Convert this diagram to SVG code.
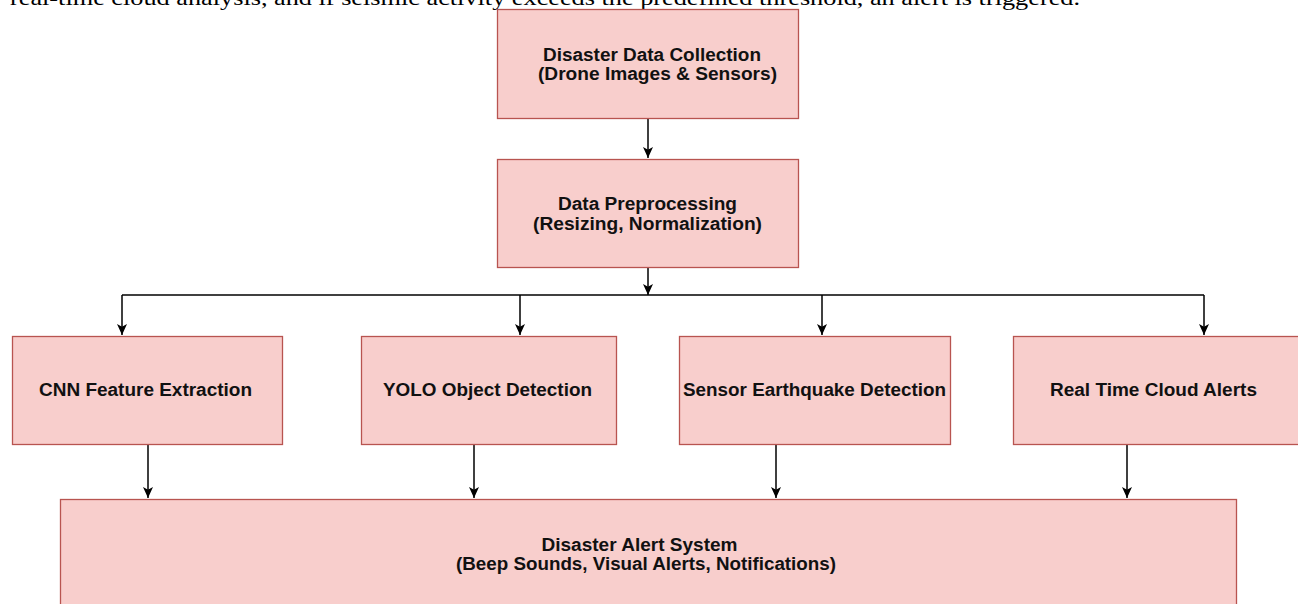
<svg xmlns="http://www.w3.org/2000/svg" width="1298" height="604" viewBox="0 0 1298 604">
<style>
.box{fill:#f8cecc;stroke:#b85450;stroke-width:1.3}
.lbl{font-family:"Liberation Sans",Arial,sans-serif;font-weight:bold;font-size:18px;fill:#111;text-anchor:middle}
.con{fill:none;stroke:#000;stroke-width:1.5}
.para{font-family:"Liberation Serif","Times New Roman",serif;font-size:22px;fill:#000}
</style>
<defs>
<marker id="ah" markerUnits="userSpaceOnUse" markerWidth="11" markerHeight="11" refX="11" refY="5.5" orient="auto" viewBox="0 0 11 11">
<path d="M0,0.5 L11,5.5 L0,10.5 L2.8,5.5 z" fill="#000"/>
</marker>
</defs>
<rect width="1298" height="604" fill="#fff"/>
<text class="para" x="10" y="5" textLength="1070" lengthAdjust="spacingAndGlyphs">real-time cloud analysis, and if seismic activity exceeds the predefined threshold, an alert is triggered.</text>
<g id="connectors">
<path class="con" d="M648,118 V158" marker-end="url(#ah)"/>
<path class="con" d="M648,268 V295" marker-end="url(#ah)"/>
<path class="con" d="M122,295 H1204"/>
<path class="con" d="M122,295 V335" marker-end="url(#ah)"/>
<path class="con" d="M520,295 V335" marker-end="url(#ah)"/>
<path class="con" d="M822,295 V335" marker-end="url(#ah)"/>
<path class="con" d="M1204,295 V335" marker-end="url(#ah)"/>
<path class="con" d="M148,445 V498" marker-end="url(#ah)"/>
<path class="con" d="M474,445 V498" marker-end="url(#ah)"/>
<path class="con" d="M776,445 V498" marker-end="url(#ah)"/>
<path class="con" d="M1127,445 V498" marker-end="url(#ah)"/>
</g>
<g id="node-collection">
<rect class="box" x="497.5" y="9.5" width="301" height="109"/>
<text class="lbl" x="652" y="60.5" textLength="218" lengthAdjust="spacingAndGlyphs">Disaster Data Collection</text>
<text class="lbl" x="657.5" y="80" textLength="239" lengthAdjust="spacingAndGlyphs">(Drone Images &amp; Sensors)</text>
</g>
<g id="node-preprocessing">
<rect class="box" x="497.5" y="159.5" width="301" height="108"/>
<text class="lbl" x="647.5" y="210" textLength="179" lengthAdjust="spacingAndGlyphs">Data Preprocessing</text>
<text class="lbl" x="647.5" y="229.5" textLength="229" lengthAdjust="spacingAndGlyphs">(Resizing, Normalization)</text>
</g>
<g id="node-cnn">
<rect class="box" x="12.5" y="336.5" width="270" height="108"/>
<text class="lbl" x="145.5" y="395.5" textLength="213" lengthAdjust="spacingAndGlyphs">CNN Feature Extraction</text>
</g>
<g id="node-yolo">
<rect class="box" x="361.5" y="336.5" width="255" height="108"/>
<text class="lbl" x="487.5" y="395.5" textLength="209" lengthAdjust="spacingAndGlyphs">YOLO Object Detection</text>
</g>
<g id="node-sensor">
<rect class="box" x="679.5" y="336.5" width="271" height="108"/>
<text class="lbl" x="814.5" y="395.5" textLength="263" lengthAdjust="spacingAndGlyphs">Sensor Earthquake Detection</text>
</g>
<g id="node-cloud">
<rect class="box" x="1013.5" y="336.5" width="290" height="108"/>
<text class="lbl" x="1153.5" y="395.5" textLength="207" lengthAdjust="spacingAndGlyphs">Real Time Cloud Alerts</text>
</g>
<g id="node-alert">
<rect class="box" x="60.5" y="499.5" width="1176" height="120"/>
<text class="lbl" x="639.5" y="550.5" textLength="196" lengthAdjust="spacingAndGlyphs">Disaster Alert System</text>
<text class="lbl" x="646" y="569.5" textLength="380" lengthAdjust="spacingAndGlyphs">(Beep Sounds, Visual Alerts, Notifications)</text>
</g>
</svg>
